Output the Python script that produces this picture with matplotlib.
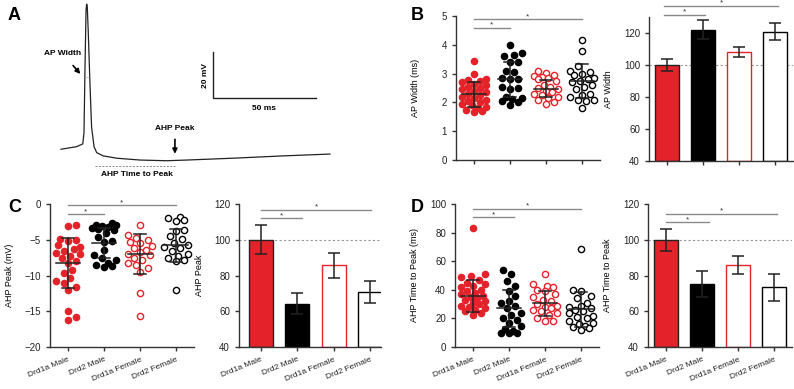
import numpy as np
import matplotlib.pyplot as plt

plt.rcParams['font.family'] = ['Liberation Sans', 'DejaVu Sans']

# ---- panel A: example trace (ms, mV)
trace_t = [0, 7.6, 10.6, 11.2, 11.7, 12.2, 12.5, 12.8, 13.3, 14.1, 14.9, 16.1, 17.4,
           20.6, 27.1, 38.5, 51.4, 61.2, 83.8, 108.1, 131.0]
trace_v = [-60.1, -59.0, -57.8, -53.0, -24.2, 0.4, 3.0, 1.9, -9.6, -31.3, -50.4, -59.0,
           -61.6, -63.0, -64.0, -64.8, -65.1, -64.8, -64.0, -63.0, -62.2]

groups = ['Drd1a Male', 'Drd2 Male', 'Drd1a Female', 'Drd2 Female']

# ---- B: AP width (ms)
apw = [
    [3.45, 3.0, 2.8, 2.78, 2.75, 2.72, 2.65, 2.6, 2.55, 2.5, 2.45, 2.4, 2.35, 2.3, 2.25,
     2.2, 2.15, 2.1, 2.05, 2.0, 1.95, 1.9, 1.85, 1.8, 1.75, 1.7, 1.68],
    [4.0, 3.7, 3.65, 3.62, 3.42, 3.4, 3.1, 3.05, 2.85, 2.82, 2.8, 2.55, 2.5, 2.48, 2.2,
     2.15, 2.12, 2.05, 2.0, 1.9],
    [3.1, 3.02, 2.95, 2.9, 2.88, 2.85, 2.8, 2.75, 2.6, 2.55, 2.5, 2.45, 2.4, 2.35, 2.3,
     2.25, 2.2, 2.15, 2.1, 2.0, 1.95],
    [4.15, 3.78, 3.25, 3.1, 3.05, 3.0, 2.95, 2.85, 2.8, 2.75, 2.7, 2.6, 2.55, 2.45, 2.3,
     2.25, 2.2, 2.1, 2.08, 2.05, 1.8],
]
apw_mean = [2.28, 2.8, 2.48, 2.75]
apw_sd = [0.43, 0.6, 0.3, 0.58]
apw_norm = [100, 122, 108.3, 120.8]
apw_sem = [3.5, 6, 3.2, 5.2]

# ---- C: AHP peak (mV)
ahp = [
    [-2.9, -3.1, -4.9, -5.0, -5.2, -5.8, -6.0, -6.3, -6.6, -6.8, -7.0, -7.3, -7.6, -8.0,
     -8.3, -9.2, -9.6, -10.4, -10.8, -11.1, -11.6, -12.0, -15.0, -15.8, -16.2],
    [-2.7, -2.9, -3.0, -3.1, -3.2, -3.3, -3.5, -3.7, -4.1, -4.6, -5.2, -5.3, -6.4, -7.2,
     -7.5, -7.9, -8.2, -8.5, -8.7, -8.8],
    [-2.9, -4.3, -4.8, -5.0, -5.3, -5.5, -5.9, -6.2, -6.5, -6.7, -7.0, -7.2, -7.5, -7.8,
     -8.2, -8.6, -9.0, -9.5, -12.5, -15.6],
    [-1.8, -2.0, -2.3, -2.4, -3.6, -3.8, -4.5, -4.9, -5.5, -5.8, -6.0, -6.2, -6.6, -7.0,
     -7.3, -7.5, -7.8, -8.0, -12.0],
]
ahp_mean = [-8.2, -5.4, -7.0, -5.8]
ahp_sd = [3.5, 2.1, 2.8, 2.3]
ahp_norm = [100, 64.3, 85.7, 70.6]
ahp_sem = [8, 6, 7, 6.2]

# ---- D: AHP time to peak (ms)
ttp = [
    [83, 51, 50, 49, 47, 45, 44, 43, 42, 40, 39, 38, 37, 36, 35, 34, 33, 32, 31, 30, 29,
     28, 27, 26, 25, 24, 22.5],
    [54, 51, 46, 43, 39.5, 36, 32.5, 30.5, 29, 27, 24, 22.5, 20.5, 19, 17, 14.5, 12.5,
     10, 10, 10, 11],
    [51, 44, 43, 42, 40, 39, 37, 35, 33, 32, 30, 29, 28, 27, 26, 25, 24, 22.5, 20, 18, 18],
    [68.5, 40, 39, 36, 34, 31, 29, 28, 27, 26, 25, 24, 22, 21, 20, 18, 17, 16, 15, 14,
     13, 12],
]
ttp_mean = [35.9, 27, 30.5, 26.3]
ttp_sd = [11.3, 12.7, 8.5, 12.5]
ttp_norm = [100, 75.2, 86.1, 73.4]
ttp_sem = [6.2, 7.5, 5, 7.5]

RED = '#e42229'
face = [RED, 'black', 'white', 'white']
edge = [RED, 'black', RED, 'black']
bar_edge = ['#222222', 'black', RED, 'black']
SIG = '#8a8a8a'
AX = '#333333'

fig = plt.figure(figsize=(7.94, 3.89), dpi=100)


def rect(l, t, r, b):
    return [l / 794, 1 - b / 389, (r - l) / 794, (b - t) / 389]


def style(ax, ylabel, xlabels):
    for s in ['top', 'right']:
        ax.spines[s].set_visible(False)
    for s in ['left', 'bottom']:
        ax.spines[s].set_color(AX)
        ax.spines[s].set_linewidth(1)
    ax.tick_params(colors=AX, labelsize=7, length=3, width=1, labelcolor='#222222')
    ax.set_xticks(range(4))
    if xlabels:
        ax.set_xticklabels(groups, rotation=22, ha='right', rotation_mode='anchor',
                           fontsize=6)
    else:
        ax.set_xticklabels([])
    ax.set_ylabel(ylabel, fontsize=6.5)
    ax.yaxis.set_label_coords(-0.25, 0.5)


def swarm(vals, ppu_y, d=7.5, half=13.0, ppu_x=36.0):
    # bounded beeswarm: spread points sideways, allow overlap once the band is full
    order = np.argsort(vals)
    placed = []
    offs = np.zeros(len(vals))
    cands = [0.0]
    for k in np.arange(2.0, half + 0.1, 2.0):
        cands += [k, -k]
    for i in order:
        y = vals[i] * ppu_y
        best, best_d = 0.0, -1.0
        for c in cands:
            md = min([np.hypot(c - px, y - py) for px, py in placed] or [99])
            if md >= d:
                best = c
                break
            if md > best_d:
                best, best_d = c, md
        placed.append((best, y))
        offs[i] = best / ppu_x
    return offs


def sig(ax, lines):
    for x0, x1, y in lines:
        ax.plot([x0, x1], [y, y], color=SIG, lw=1, clip_on=False)
        ax.annotate('*', ((x0 + x1) / 2, y), xytext=(0, -0.5), textcoords='offset points',
                    ha='center', va='bottom', fontsize=6, color='#333333',
                    annotation_clip=False)


def scatter_panel(r, data, means, sds, ppu_y, ylim, yticks, ylabel, lines, xlabels):
    ax = fig.add_axes(rect(*r))
    for i, vals in enumerate(data):
        vals = np.array(vals)
        xs = i + swarm(vals, ppu_y)
        ax.scatter(xs, vals, s=20, facecolor=face[i], edgecolor=edge[i], linewidth=1,
                   zorder=2, clip_on=False)
        m, sd = means[i], sds[i]
        ax.plot([i - 0.33, i + 0.33], [m, m], color='#222222', lw=1.1, zorder=3)
        ax.plot([i, i], [m - sd, m + sd], color='#222222', lw=1.1, zorder=3)
        for yy in (m - sd, m + sd):
            ax.plot([i - 0.17, i + 0.17], [yy, yy], color='#222222', lw=1.1, zorder=3)
    ax.set_xlim(-0.5, 3.5)
    ax.set_ylim(*ylim)
    ax.set_yticks(yticks)
    style(ax, ylabel, xlabels)
    sig(ax, lines)
    return ax


def bar_panel(r, means, sems, xlim, ylim, yticks, ylabel, lines, xlabels):
    ax = fig.add_axes(rect(*r))
    x = np.arange(4)
    ax.bar(x, [m - ylim[0] for m in means], bottom=ylim[0], width=0.66, color=face,
           edgecolor=bar_edge, linewidth=1, zorder=2)
    ax.errorbar(x, means, yerr=sems, fmt='none', ecolor='#222222', elinewidth=1.1,
                capsize=4.3, capthick=1.1, zorder=3)
    ax.axhline(100, color='#999999', lw=0.8, ls=(0, (2, 2)), zorder=1)
    ax.set_xlim(*xlim)
    ax.set_ylim(*ylim)
    ax.set_yticks(yticks)
    style(ax, ylabel, xlabels)
    sig(ax, lines)
    return ax


# ---- panel A
axA = fig.add_axes(rect(20, 0, 380, 185))
axA.plot(trace_t, trace_v, color='#222222', lw=0.9)
axA.set_xlim(-19.97, 155.4)
axA.set_ylim(-75.65, 4.78)
axA.axis('off')
axA.plot([74, 74, 124], [-18, -38, -38], color='#222222', lw=1)
axA.text(70.5, -28, '20 mV', rotation=90, ha='center', va='center', fontsize=6,
         fontweight='bold')
axA.text(99, -42.5, '50 ms', ha='center', va='center', fontsize=6, fontweight='bold')
axA.text(1, -18.3, 'AP Width', ha='center', va='center', fontsize=6, fontweight='bold')
axA.annotate('', xy=(10.3, -28.3), xytext=(5.0, -22.8),
             arrowprops=dict(arrowstyle='-|>', color='black', lw=1.2, mutation_scale=7))
axA.plot([11.2, 14.1], [-28.7, -28.7], color='#999999', lw=0.7, ls=(0, (1, 1)))
axA.text(55.5, -50.9, 'AHP Peak', ha='center', va='center', fontsize=6, fontweight='bold')
axA.annotate('', xy=(55.5, -63.3), xytext=(55.5, -54.6),
             arrowprops=dict(arrowstyle='-|>', color='black', lw=1.2, mutation_scale=7))
axA.plot([16.6, 55.5], [-67.2, -67.2], color='#888888', lw=0.7, ls=(0, (2, 1.5)))
axA.text(37, -71.0, 'AHP Time to Peak', ha='center', va='center', fontsize=6,
         fontweight='bold')

# ---- panel B
scatter_panel((456, 16, 600, 160), apw, apw_mean, apw_sd, 28.8, (0, 5), range(0, 6),
              'AP Width (ms)', [(0, 1, 4.58), (0, 3, 4.88)], False)
bar_panel((649, 17, 793, 161), apw_norm, apw_sem, (-0.5, 3.5), (40, 130),
          range(40, 121, 20), 'AP Width', [(-0.08, 1.06, 131.25), (-0.08, 3.08, 136.9)],
          False)

# ---- panel C
scatter_panel((50, 204, 194, 347), ahp, ahp_mean, ahp_sd, 7.15, (-20, 0),
              range(-20, 1, 5), 'AHP Peak (mV)', [(0, 1, -1.45), (0, 3, -0.2)], True)
bar_panel((239, 204, 381, 347), ahp_norm, ahp_sem, (-0.6, 3.3), (40, 120),
          range(40, 121, 20), 'AHP Peak', [(0, 1.14, 112), (0, 3.03, 116.6)], True)

# ---- panel D
scatter_panel((455, 204, 599, 347), ttp, ttp_mean, ttp_sd, 1.43, (0, 100),
              range(0, 101, 20), 'AHP Time to Peak (ms)', [(0, 1.14, 90.7), (0, 3, 96.5)],
              True)
bar_panel((648, 204, 792, 347), ttp_norm, ttp_sem, (-0.5, 3.5), (40, 120),
          range(40, 121, 20), 'AHP Time to Peak', [(0, 1.19, 109.8), (0, 3.08, 114.4)],
          True)

for lab, x, y in [('A', 8, 16), ('B', 411, 16), ('C', 8, 207), ('D', 411, 207)]:
    fig.text(x / 794, 1 - y / 389, lab, fontsize=13, fontweight='bold', ha='left',
             va='center')

fig.savefig('out.png', dpi=100)
